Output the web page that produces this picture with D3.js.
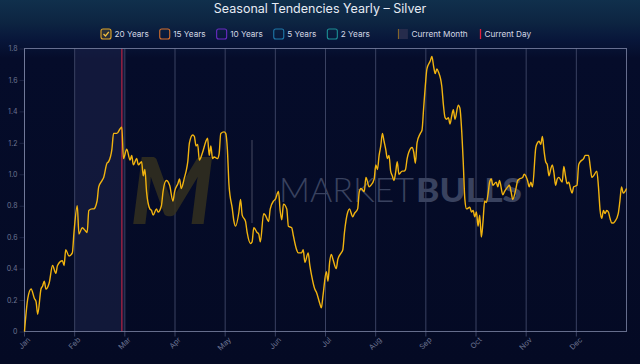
<!DOCTYPE html>
<html><head><meta charset="utf-8">
<script src="https://cdn.jsdelivr.net/npm/d3@7"></script>
<style>html,body{margin:0;padding:0;background:#050b27;}svg{display:block;}</style>
</head><body><svg id="c" width="640" height="364"></svg>
<script>
const title = "Seasonal Tendencies Yearly – Silver";
const months = ["Jan","Feb","Mar","Apr","May","Jun","Jul","Aug","Sep","Oct","Nov","Dec"];
const yTicks = [0,0.2,0.4,0.6,0.8,1.0,1.2,1.4,1.6,1.8];
const legendNames = ["20 Years","15 Years","10 Years","5 Years","2 Years"];
const legendColors = ["#e2a526","#d8702c","#6a2bc4","#1f78a8","#1c8f95"];
const currentMonthIndex = 1;
const currentDay = 59;
// day of year (0-365) and seasonal value (20 years)
const days = [0,2,4,6,7,8,10,11,12,13,15,17,19,20,23,24,25,27,29,30,32,33,35,37,38,39,41,42,44,45,47,48,50,51,53,54,56,58,59,
60,62,64,65,66,68,69,71,72,73,74,76,77,78,80,81,83,84,86,88,90,91,93,94,95,97,98,99,100,102,103,104,105,106,108,110,111,112,113,114,115,117,118,119,121,
122,123,124,126,127,128,130,131,132,134,135,137,138,139,141,142,143,145,146,148,149,151,152,154,155,156,157,159,160,162,163,165,166,168,169,170,172,173,174,176,177,179,180,181,
183,184,185,186,187,189,190,192,193,194,196,197,199,200,202,203,204,206,207,209,210,212,213,214,215,216,217,218,219,220,221,222,223,224,225,226,227,229,230,231,232,233,235,236,237,238,240,241,
242,243,244,246,247,248,249,250,251,253,254,255,256,257,258,259,260,261,263,264,265,266,267,268,270,271,272,273,274,275,276,277,278,279,280,281,282,283,284,286,287,288,290,291,293,294,295,296,298,299,300,302,303,
305,306,307,308,310,311,312,313,314,315,316,317,318,319,320,321,322,323,324,326,327,328,329,330,331,332,333,335,336,337,339,340,342,343,344,345,347,348,349,350,351,352,353,354,355,356,357,358,360,361,362,363,364,365];
const values = [0,0.21,0.27,0.21,0.19,0.11,0.27,0.29,0.32,0.27,0.31,0.42,0.37,0.42,0.45,0.42,0.52,0.48,0.50,0.63,0.80,0.62,0.66,0.64,0.63,0.77,0.78,0.78,0.83,0.92,0.96,0.98,1.07,1.08,1.16,1.26,1.26,1.29,1.30,
1.10,1.16,1.09,1.12,1.06,1.10,1.06,1.08,0.99,1.03,0.89,0.78,0.77,0.74,0.78,0.76,0.80,0.89,0.96,0.93,0.83,0.89,0.94,0.97,0.91,0.98,1.02,1.08,1.20,1.25,1.24,1.18,1.19,1.09,1.14,1.21,1.23,1.12,1.18,1.10,1.11,1.10,1.13,1.26,1.27,
1.26,1.16,0.93,0.78,0.70,0.67,0.76,0.84,0.74,0.70,0.63,0.56,0.57,0.66,0.63,0.62,0.57,0.75,0.74,0.70,0.78,0.83,0.84,0.89,0.77,0.71,0.81,0.78,0.67,0.66,0.61,0.52,0.50,0.50,0.52,0.44,0.50,0.42,0.36,0.27,0.25,0.18,0.15,0.23,
0.38,0.32,0.44,0.49,0.46,0.40,0.46,0.50,0.52,0.63,0.76,0.78,0.73,0.75,0.78,0.89,0.91,0.89,0.98,0.92,0.93,0.97,1.06,1.03,1.12,1.18,1.26,1.21,1.16,1.10,1.12,1.02,0.99,0.96,1.01,1.08,1.00,1.02,1.02,1.03,1.10,1.14,1.17,1.14,1.07,1.20,1.26,1.28,
1.42,1.56,1.67,1.72,1.75,1.69,1.64,1.67,1.65,1.56,1.44,1.36,1.35,1.36,1.32,1.37,1.41,1.35,1.44,1.42,1.29,1.08,0.84,0.78,0.79,0.76,0.77,0.73,0.76,0.67,0.74,0.60,0.70,0.83,0.82,0.87,0.95,0.97,0.93,0.95,0.92,0.96,0.87,0.89,0.92,0.93,0.89,0.84,0.91,0.96,0.97,0.98,1.00,
0.96,0.92,0.95,0.92,1.17,1.20,1.21,1.19,1.24,1.15,1.08,1.06,0.99,1.03,1.06,1.01,0.93,0.97,0.98,0.95,1.05,0.99,0.94,0.95,0.91,0.88,0.92,0.93,1.06,1.08,1.10,1.12,1.12,1.05,0.98,0.99,1.02,0.92,0.77,0.72,0.77,0.75,0.77,0.76,0.72,0.69,0.69,0.70,0.75,0.83,0.92,0.88,0.89,0.91];

const data = days.map((d,i)=>({day:d, v:values[i]}));
const svg = d3.select("#c");
const W = 640, H = 364;
const plot = {l:24.5, r:626.5, t:48.5, b:331.5};

// background
const defs = svg.append("defs");
const bg = defs.append("linearGradient").attr("id","bg").attr("x1",0).attr("y1",0).attr("x2",0).attr("y2",1);
[[0,"#10304c"],[0.06,"#0d2542"],[0.11,"#08163a"],[0.16,"#050c2a"],[1,"#040a24"]].forEach(s=>bg.append("stop").attr("offset",s[0]).attr("stop-color",s[1]));
svg.append("rect").attr("width",W).attr("height",H).attr("fill","url(#bg)");

const x = d3.scaleLinear().domain([0,365]).range([plot.l, plot.r]);
const y = d3.scaleLinear().domain([0,1.8]).range([plot.b, plot.t]);
const monthTicks = d3.range(12).map(i=>i*365/12);

// current month shading
svg.append("rect").attr("x",x(monthTicks[currentMonthIndex])).attr("y",plot.t)
  .attr("width",x(monthTicks[currentMonthIndex+1])-x(monthTicks[currentMonthIndex])).attr("height",plot.b-plot.t)
  .attr("fill","#1a2248").attr("opacity",0.6);

// vertical month grid
svg.append("g").selectAll("line").data(monthTicks).join("line")
  .attr("x1",d=>x(d)).attr("x2",d=>x(d)).attr("y1",plot.t).attr("y2",plot.b+5)
  .attr("stroke","#3a4262").attr("stroke-width",1);

// y axis
const ya = svg.append("g").attr("transform",`translate(${plot.l},0)`)
  .call(d3.axisLeft(y).tickValues(yTicks).tickSize(5).tickPadding(2).tickFormat(d=>d===0?"0":d3.format(".1f")(d)));
ya.select(".domain").remove();
ya.selectAll(".tick line").attr("stroke","#1c2444");
ya.selectAll(".tick text").attr("fill","#6c7492").style("font-family","Inter, sans-serif").style("font-size","7px");

// x labels
const xa = svg.append("g").attr("transform",`translate(0,${plot.b})`)
  .call(d3.axisBottom(x).tickValues(monthTicks).tickSize(0).tickFormat((d,i)=>months[i]));
xa.select(".domain").remove();
xa.selectAll(".tick text").attr("fill","#6c7492").style("font-family","Inter, sans-serif").style("font-size","7.5px")
  .attr("text-anchor","end").attr("transform","translate(4,7) rotate(-45)").attr("dy","0.35em").attr("y",0);

// watermark
const wm = svg.append("g");
wm.append("text").attr("x",172).attr("y",224).attr("text-anchor","middle")
  .style("font-family","Lato, sans-serif").style("font-weight",900).style("font-style","italic").style("font-size","92px")
  .attr("fill","#36321f").attr("opacity",0.8).attr("textLength",84).attr("lengthAdjust","spacingAndGlyphs").text("M");
wm.append("line").attr("x1",252).attr("x2",252).attr("y1",140).attr("y2",223).attr("stroke","#3c4058").attr("stroke-width",1.2);
wm.append("text").attr("x",279).attr("y",202).style("font-family","Lato, sans-serif").style("font-weight",300).style("font-size","33px")
  .attr("fill","#39425f").attr("textLength",135).attr("lengthAdjust","spacingAndGlyphs").text("MARKET");
wm.append("text").attr("x",416).attr("y",202).style("font-family","Lato, sans-serif").style("font-weight",900).style("font-size","33px")
  .attr("fill","#39425f").attr("textLength",106).attr("lengthAdjust","spacingAndGlyphs").text("BULLS");

// current day line
svg.append("line").attr("x1",x(currentDay)).attr("x2",x(currentDay)).attr("y1",plot.t).attr("y2",plot.b)
  .attr("stroke","#8e2040").attr("stroke-width",1.6);

// plot border
svg.append("rect").attr("x",plot.l).attr("y",plot.t).attr("width",plot.r-plot.l).attr("height",plot.b-plot.t)
  .attr("fill","none").attr("stroke","#7e86a6").attr("stroke-width",1).attr("opacity",0.8);

// line
svg.append("path").datum(data).attr("fill","none").attr("stroke","#f2b40f").attr("stroke-width",1.4)
  .attr("stroke-linejoin","round")
  .attr("d",d3.line().x(d=>x(d.day)).y(d=>y(d.v)).curve(d3.curveMonotoneX));

// title
svg.append("text").attr("x",W/2).attr("y",13).attr("text-anchor","middle")
  .style("font-family","Inter, sans-serif").style("font-weight",400).style("font-size","12.5px").attr("fill","#e6ebf4").text(title);

// legend
const lg = svg.append("g").style("font-family","Inter, sans-serif").style("font-size","8.2px");
let cx = 101; const ly = 34;
legendNames.forEach((n,i)=>{
  const g = lg.append("g");
  g.append("rect").attr("x",cx).attr("y",ly-5).attr("width",10).attr("height",10).attr("rx",2)
    .attr("fill", i===0 ? "rgba(226,165,38,0.15)" : "none").attr("stroke",legendColors[i]).attr("stroke-width",1.1);
  if(i===0){
    g.append("path").attr("d",`M${cx+2.5},${ly} L${cx+4.5},${ly+2} L${cx+7.8},${ly-2.2}`).attr("fill","none")
      .attr("stroke","#f2c040").attr("stroke-width",1.3);
  }
  const t = g.append("text").attr("x",cx+13.5).attr("y",ly).attr("dy","0.35em").attr("fill","#d4d8e4").text(n);
  cx = cx + 13.5 + t.node().getComputedTextLength() + 11;
});
cx += 17;
lg.append("rect").attr("x",cx).attr("y",ly-5).attr("width",10).attr("height",10).attr("fill","#262c4c");
lg.append("line").attr("x1",cx+0.5).attr("x2",cx+0.5).attr("y1",ly-5).attr("y2",ly+5).attr("stroke","#8a6a28").attr("stroke-width",1);
const cmT = lg.append("text").attr("x",cx+13.5).attr("y",ly).attr("dy","0.35em").attr("fill","#d4d8e4").text("Current Month");
cx = Math.round(cx + 13.5 + cmT.node().getComputedTextLength() + 12) + 0.5;
lg.append("line").attr("x1",cx).attr("x2",cx).attr("y1",ly-5).attr("y2",ly+5).attr("stroke","#e0203c").attr("stroke-width",1.3);
lg.append("text").attr("x",cx+4).attr("y",ly).attr("dy","0.35em").attr("fill","#d4d8e4").text("Current Day");
</script></body></html>
